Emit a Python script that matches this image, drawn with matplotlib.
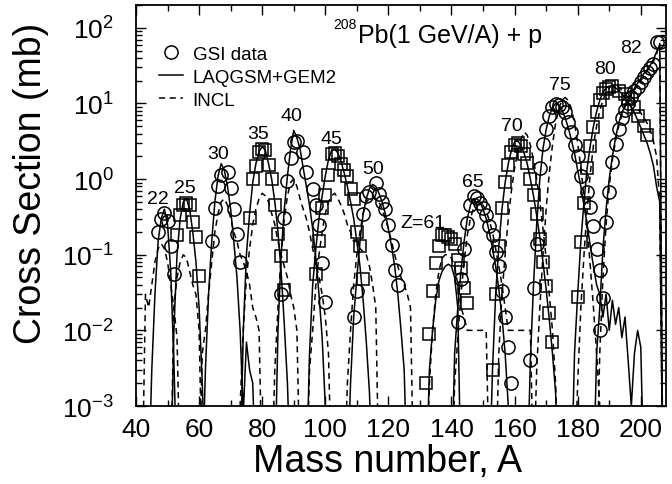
import numpy as np
import matplotlib
matplotlib.use("Agg")
import matplotlib.pyplot as plt
from matplotlib.lines import Line2D
from matplotlib.ticker import MultipleLocator, LogLocator, NullFormatter

plt.rcParams['font.family'] = ['Liberation Sans', 'DejaVu Sans']

# ---- GSI data (mass number, cross section in mb), one list pair per element ----
gsi22_A = [47, 48, 49, 50, 51, 52]
gsi22 = [0.20, 0.30, 0.36, 0.28, 0.13, 0.055]
gsi25_A = [53, 54, 55, 56, 57, 58, 59, 60]
gsi25 = [0.18, 0.34, 0.46, 0.48, 0.45, 0.27, 0.17, 0.053]
gsi30_A = [64, 65, 66, 67, 69, 70, 71, 72, 73]
gsi30 = [0.15, 0.42, 0.82, 1.14, 1.23, 0.76, 0.40, 0.19, 0.08]
gsi35_A = [76, 77, 78, 79, 80, 81, 82, 83, 84, 85, 86, 87]
gsi35 = [0.31, 0.99, 1.5, 2.3, 2.5, 2.4, 1.55, 1.0, 0.46, 0.19, 0.095, 0.034]
gsi40_A = [86, 87, 88, 89, 90, 91, 93, 94, 96, 97, 98, 99, 100]
gsi40 = [0.03, 0.31, 0.95, 1.9, 3.1, 3.2, 2.3, 1.23, 0.74, 0.45, 0.25, 0.077, 0.024]
gsi45_A = [97, 98, 99, 100, 101, 102, 103, 104, 105, 106, 107, 108, 109, 110, 111, 112]
gsi45 = [0.056, 0.15, 0.42, 0.62, 1.14, 2.15, 2.2, 2.0, 1.6, 1.3, 1.1, 0.73, 0.54, 0.2, 0.13, 0.048]
gsi50_A = [109, 110, 112, 113, 114, 116, 117, 118, 119, 120, 121, 122, 123]
gsi50 = [0.015, 0.033, 0.35, 0.59, 0.67, 0.89, 0.64, 0.50, 0.40, 0.25, 0.135, 0.062, 0.040]
gsi61_A = [132, 133, 134, 135, 136, 137, 138, 139, 140, 141, 142, 143, 144, 145]
gsi61 = [0.002, 0.009, 0.033, 0.078, 0.13, 0.18, 0.18, 0.17, 0.16, 0.14, 0.086, 0.066, 0.036, 0.023]
gsi65_A = [142, 143, 144, 145, 146, 147, 148, 149, 150, 151, 152, 153, 154, 155, 156, 157, 158, 159]
gsi65 = [0.013, 0.048, 0.12, 0.26, 0.45, 0.59, 0.57, 0.49, 0.41, 0.33, 0.24, 0.18, 0.11, 0.07,
         0.033, 0.015, 0.006, 0.002]
gsi70_A = [153, 154, 155, 156, 157, 158, 159, 160, 161, 162, 163, 164, 165, 166, 167, 168, 169,
           170, 171, 172]
gsi70 = [0.003, 0.03, 0.13, 0.41, 0.92, 1.55, 2.3, 2.8, 3.0, 2.7, 2.15, 1.64, 1.0, 0.62, 0.35,
         0.16, 0.08, 0.039, 0.017, 0.007]
gsi75_A = [165, 166, 167, 168, 169, 170, 171, 172, 173, 174, 175, 176, 177, 178, 179, 180, 181,
           183, 184, 185, 186, 187]
gsi75 = [0.004, 0.036, 0.14, 1.39, 2.9, 4.6, 6.9, 8.9, 9.9, 9.6, 8.9, 7.7, 5.7, 4.2, 2.8, 2.04,
         1.1, 0.68, 0.43, 0.24, 0.12, 0.062]
gsi80_A = [180, 181, 182, 183, 184, 185, 186, 187, 188, 189, 190, 191, 193, 195, 196, 198, 199,
           201, 202]
gsi80 = [0.028, 0.146, 0.48, 1.39, 2.77, 4.86, 7.8, 11, 13.8, 15.6, 16.4, 16.9, 14.8, 13.4, 11.5,
         8.9, 6.8, 5.1, 3.85]
gsi82_A = [187, 188, 189, 190, 191, 192, 193, 194, 195, 196, 197, 198, 199, 200, 201, 202, 203,
           204, 205, 206]
gsi82 = [0.01, 0.027, 0.27, 0.68, 1.68, 2.9, 4.6, 6.4, 8.3, 10.2, 12.1, 14.4, 16.4, 19.1, 22.3,
         26.4, 29.3, 33.4, 64.5, 64.5]

# ---- model curves: first mass number, then values on consecutive A ----
laq22_A0 = 44
laq22 = [1e-4, 0.003, 0.03, 0.15, 0.3, 0.4, 0.25, 0.06, 0.004, 1e-4]
incl22_A0 = 42
incl22 = [1e-4, 0.03, 0.02, 0.04, 0.08, 0.12, 0.14, 0.12, 0.08, 0.04, 0.02, 0.008, 1e-4]
laq25_A0 = 51
laq25 = [1e-4, 0.01, 0.1, 0.3, 0.5, 0.55, 0.4, 0.2, 0.08, 0.02, 0.002, 1e-4]
incl25_A0 = 51
incl25 = [1e-4, 0.02, 0.05, 0.08, 0.1, 0.09, 0.06, 0.04, 0.03, 0.01, 1e-4]
laq30_A0 = 61
laq30 = [1e-4, 0.003, 0.03, 0.15, 0.5, 1.1, 1.6, 1.3, 0.8, 0.4, 0.15, 0.05, 0.01, 0.0008, 0.007,
         0.003, 0.002, 1e-4]
incl30_A0 = 60
incl30 = [1e-4, 0.005, 0.01, 0.03, 0.08, 0.2, 0.35, 0.5, 0.55, 0.45, 0.3, 0.2, 0.15, 0.1, 0.08,
          0.06, 0.04, 0.02, 0.015, 0.01, 1e-4]
laq35_A0 = 73
laq35 = [1e-4, 0.01, 0.1, 0.35, 0.9, 1.6, 2.3, 2.7, 2.4, 1.6, 1.0, 0.5, 0.2, 0.06, 0.012, 0.002, 1e-4]
incl35_A0 = 72
incl35 = [1e-4, 0.001, 0.01, 0.05, 0.12, 0.25, 0.4, 0.55, 0.65, 0.6, 0.5, 0.35, 0.25, 0.15, 0.1,
          0.07, 0.05, 0.03, 0.02, 0.01, 1e-4]
laq40_A0 = 84
laq40 = [1e-4, 0.01, 0.1, 0.4, 1.1, 2.5, 4.4, 3.5, 2.5, 1.4, 0.8, 0.45, 0.22, 0.09, 0.03, 0.008,
         0.001, 1e-4]
incl40_A0 = 83
incl40 = [1e-4, 0.003, 0.02, 0.1, 0.3, 0.6, 0.9, 1.0, 0.8, 0.55, 0.4, 0.3, 0.2, 0.12, 0.08, 0.05,
          0.03, 0.015, 0.005, 1e-4]
laq45_A0 = 94
laq45 = [1e-4, 0.005, 0.04, 0.12, 0.3, 0.6, 1.1, 1.8, 2.4, 2.5, 2.2, 1.7, 1.2, 0.8, 0.5, 0.3, 0.15,
         0.07, 0.025, 0.007, 0.0015, 1e-4]
incl45_A0 = 94
incl45 = [1e-4, 0.003, 0.01, 0.04, 0.1, 0.2, 0.35, 0.5, 0.6, 0.65, 0.55, 0.45, 0.35, 0.25, 0.2,
          0.15, 0.15, 0.12, 0.11, 0.1, 0.07, 0.04, 0.02, 1e-4]
laq50_A0 = 107
laq50 = [1e-4, 0.002, 0.015, 0.05, 0.15, 0.35, 0.55, 0.75, 0.85, 0.8, 0.65, 0.5, 0.35, 0.22, 0.13,
         0.07, 0.03, 0.01, 0.003, 1e-4]
incl50_A0 = 106
incl50 = [1e-4, 0.002, 0.01, 0.04, 0.1, 0.2, 0.35, 0.5, 0.55, 0.6, 0.55, 0.5, 0.4, 0.3, 0.22, 0.15,
          0.1, 0.07, 0.05, 0.04, 0.03, 0.02, 1e-4]
laq61_A0 = 132
laq61 = [1e-4, 0.003, 0.01, 0.025, 0.045, 0.06, 0.07, 0.075, 0.07, 0.05, 0.02, 1e-4]
incl61_A0 = 132
incl61 = [1e-4, 0.002, 0.01, 0.03, 0.06, 0.09, 0.1, 0.1, 0.09, 0.07, 0.04, 0.02, 0.015, 0.01,
          0.01, 0.01, 0.01, 0.01, 0.01, 0.01, 1e-4]
laq65_A0 = 140
laq65 = [1e-4, 0.005, 0.02, 0.06, 0.15, 0.3, 0.45, 0.55, 0.55, 0.5, 0.4, 0.3, 0.2, 0.12, 0.07,
         0.035, 0.015, 0.005, 0.001, 1e-4]
incl65_A0 = 140
incl65 = [1e-4, 0.002, 0.008, 0.03, 0.08, 0.18, 0.3, 0.42, 0.5, 0.5, 0.45, 0.38, 0.28, 0.2, 0.12,
          0.07, 0.04, 0.02, 0.01, 0.01, 0.01, 0.01, 0.01, 0.01, 0.01, 0.01, 1e-4]
laq70_A0 = 152
laq70 = [1e-4, 0.003, 0.03, 0.13, 0.4, 0.9, 1.6, 2.4, 3.1, 3.2, 2.8, 2.2, 1.6, 1.0, 0.6, 0.33,
         0.17, 0.08, 0.035, 0.014, 0.005, 0.0015, 1e-4]
incl70_A0 = 154
incl70 = [1e-4, 0.005, 0.03, 0.1, 0.3, 0.7, 1.4, 2.3, 3.3, 4.2, 3.8, 2.8, 1.8, 1.0, 0.5, 0.22,
          0.09, 0.03, 0.01, 0.002, 1e-4]
laq75_A0 = 164
laq75 = [1e-4, 0.004, 0.04, 0.25, 1.0, 2.5, 4.5, 6.8, 8.8, 10, 9.5, 8.2, 6.5, 4.8, 3.3, 2.2, 1.3,
         0.8, 0.45, 0.25, 0.13, 0.07, 0.04, 0.03, 0.015, 0.03, 0.01, 0.025, 0.012, 0.02, 0.008,
         0.015, 0.004, 0.001, 0.005, 0.01, 0.006, 1e-4]
incl75_A0 = 166
incl75 = [1e-4, 0.003, 0.02, 0.1, 0.4, 1.2, 2.8, 5.5, 8.5, 11, 12, 11, 8.5, 5.5, 3.0, 1.4, 0.6,
          0.22, 0.07, 0.02, 0.005, 0.001, 1e-4]
laq80_A0 = 178
laq80 = [1e-4, 0.005, 0.03, 0.15, 0.5, 1.4, 2.8, 5, 7.8, 11, 14, 16, 17, 17, 16, 15, 13.5, 12,
         10.5, 9, 7.5, 6, 4.8, 3.8, 3.0, 2.2, 1.5, 0.8, 0.5, 1e-4]
incl80_A0 = 179
incl80 = [1e-4, 0.002, 0.02, 0.1, 0.4, 1.2, 2.8, 5, 8, 11, 14, 16, 17.5, 17.5, 16.5, 15, 13.5, 12,
          10.5, 9.5, 8.5, 7.5, 6.5, 5.5, 4.5, 3.2, 2.0, 0.5, 1e-4]
laq82_A0 = 185
laq82 = [1e-4, 0.005, 0.02, 0.12, 0.4, 1.0, 2.0, 3.5, 5.5, 7.5, 9.5, 11.5, 13.5, 16, 18.5, 21.5,
         25, 28, 32, 38, 48, 60, 1e-4]
incl82_A0 = 186
incl82 = [1e-4, 0.005, 0.05, 0.25, 0.8, 1.8, 3.2, 5, 7, 9, 11, 13, 15, 17.5, 20, 23, 27, 31, 36,
          45, 62, 1e-4]

# element labels: text, A position, cross section position
label_text = ['22', '25', '30', '35', '40', '45', '50', 'Z=61', '65', '70', '75', '80', '82']
label_A = [46.9, 55.6, 66.1, 78.8, 89.4, 101.8, 115.0, 130.9, 146.8, 159.2, 174.3, 188.6, 197.0]
label_sig = [0.55, 0.78, 2.2, 4.0, 6.9, 3.4, 1.36, 0.27, 0.93, 5.1, 17.6, 28.7, 55.6]

# table for looping: (gsi A, gsi, marker, laq start, laq, incl start, incl)
elements = [
    (gsi22_A, gsi22, 'o', laq22_A0, laq22, incl22_A0, incl22),
    (gsi25_A, gsi25, 's', laq25_A0, laq25, incl25_A0, incl25),
    (gsi30_A, gsi30, 'o', laq30_A0, laq30, incl30_A0, incl30),
    (gsi35_A, gsi35, 's', laq35_A0, laq35, incl35_A0, incl35),
    (gsi40_A, gsi40, 'o', laq40_A0, laq40, incl40_A0, incl40),
    (gsi45_A, gsi45, 's', laq45_A0, laq45, incl45_A0, incl45),
    (gsi50_A, gsi50, 'o', laq50_A0, laq50, incl50_A0, incl50),
    (gsi61_A, gsi61, 's', laq61_A0, laq61, incl61_A0, incl61),
    (gsi65_A, gsi65, 'o', laq65_A0, laq65, incl65_A0, incl65),
    (gsi70_A, gsi70, 's', laq70_A0, laq70, incl70_A0, incl70),
    (gsi75_A, gsi75, 'o', laq75_A0, laq75, incl75_A0, incl75),
    (gsi80_A, gsi80, 's', laq80_A0, laq80, incl80_A0, incl80),
    (gsi82_A, gsi82, 'o', laq82_A0, laq82, incl82_A0, incl82),
]

fig = plt.figure(figsize=(6.72, 4.85), dpi=100)
ax = fig.add_axes([0.2024, 0.1608, 0.7887, 0.8268])

dash = (0, (4, 3))
for gA, gs, mk, l0, lv, i0, iv in elements:
    ax.plot(np.arange(l0, l0 + len(lv)), lv, color='k', lw=1.1, zorder=2)
    ax.plot(np.arange(i0, i0 + len(iv)), iv, color='k', lw=1.1, ls=dash, zorder=2)
    ms = 9.5 if mk == 'o' else 8.5
    ax.plot(gA, gs, ls='none', marker=mk, ms=ms, mfc='none', mec='k', mew=1.1, zorder=3)

for t, a, s in zip(label_text, label_A, label_sig):
    ax.text(a, s, t, fontsize=14, ha='center', va='center')

ax.text(0.373, 0.953, '208', transform=ax.transAxes, fontsize=10, ha='left', va='center')
ax.text(0.418, 0.926, 'Pb(1 GeV/A) + p', transform=ax.transAxes, fontsize=18,
        ha='left', va='center')

ax.set_yscale('log')
ax.set_xlim(40, 208)
ax.set_ylim(1e-3, 200)
ax.xaxis.set_major_locator(MultipleLocator(20))
ax.xaxis.set_minor_locator(MultipleLocator(10))
ax.yaxis.set_major_locator(LogLocator(base=10))
ax.yaxis.set_minor_locator(LogLocator(base=10, subs=np.arange(2, 10)))
ax.yaxis.set_minor_formatter(NullFormatter())
ax.tick_params(which='both', direction='in', top=True, right=True, width=1.0)
ax.tick_params(which='major', length=7, labelsize=19)
ax.tick_params(which='minor', length=4)
ax.tick_params(axis='x', pad=8)
ax.tick_params(axis='y', pad=16)
for sp in ax.spines.values():
    sp.set_linewidth(1.3)

ax.set_xlabel('Mass number, A', fontsize=27)
ax.set_ylabel('Cross Section (mb)', fontsize=27)
ax.xaxis.set_label_coords(0.475, -0.093)
ax.yaxis.set_label_coords(-0.165, 0.557)

handles = [
    Line2D([], [], ls='none', marker='o', ms=9.5, mfc='none', mec='k', mew=1.1),
    Line2D([], [], color='k', lw=1.1),
    Line2D([], [], color='k', lw=1.1, ls=dash),
]
ax.legend(handles, ['GSI data', 'LAQGSM+GEM2', 'INCL'], loc='upper left',
          bbox_to_anchor=(0.043, 0.898), frameon=False, fontsize=13.5, handlelength=1.3,
          handletextpad=0.5, labelspacing=0.3, borderaxespad=0, borderpad=0)

fig.savefig('out.png', dpi=100)
